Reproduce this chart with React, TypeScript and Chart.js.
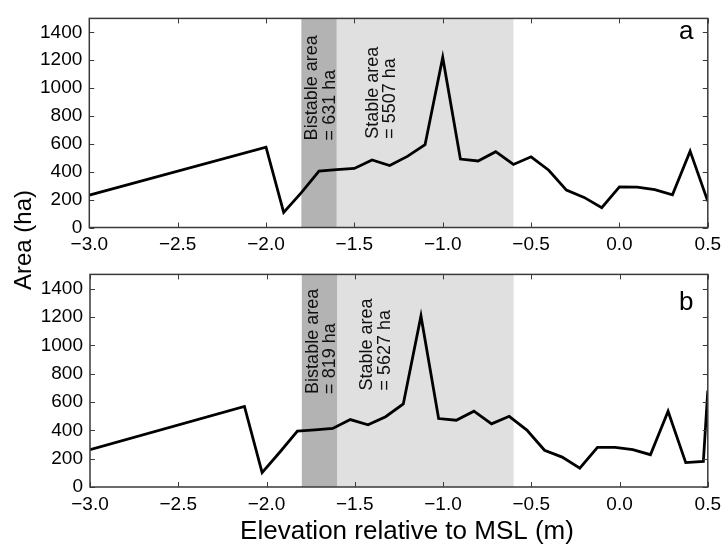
import React, { useEffect, useRef } from 'react';
import { Chart, registerables } from 'chart.js';

Chart.register(...registerables);

// ---------- data ----------
const xTickValues = [-3.0, -2.5, -2.0, -1.5, -1.0, -0.5, 0.0, 0.5];
const yTickValues = [0, 200, 400, 600, 800, 1000, 1200, 1400];

const elevationA = [-3.0, -2.0, -1.9, -1.8, -1.7, -1.6, -1.5, -1.4, -1.3, -1.2, -1.1, -1.0, -0.9, -0.8, -0.7, -0.6, -0.5, -0.4, -0.3, -0.2, -0.1, 0.0, 0.1, 0.2, 0.3, 0.4, 0.5];
const areaA = [232, 576, 108, 250, 404, 415, 424, 484, 445, 510, 594, 1220, 491, 477, 544, 452, 507, 411, 268, 216, 142, 291, 289, 271, 234, 548, 188];

const elevationB = [-3.0, -2.125, -2.025, -1.925, -1.825, -1.725, -1.625, -1.525, -1.425, -1.325, -1.225, -1.125, -1.025, -0.925, -0.825, -0.725, -0.625, -0.525, -0.425, -0.325, -0.225, -0.125, -0.025, 0.075, 0.175, 0.275, 0.375, 0.475, 0.5];
const areaB = [264, 568, 101, 245, 395, 403, 413, 476, 439, 496, 586, 1207, 483, 471, 535, 446, 499, 402, 259, 211, 133, 280, 280, 264, 228, 535, 172, 181, 680];

const bistableRange = [-1.8, -1.6];
const stableRange = [-1.6, -0.6];

const bistableTextA = ['Bistable area', '= 631 ha'];
const stableTextA = ['Stable area', '= 5507 ha'];
const bistableTextB = ['Bistable area', '= 819 ha'];
const stableTextB = ['Stable area', '= 5627 ha'];

const panelLabelA = 'a';
const panelLabelB = 'b';
const xTitle = 'Elevation relative to MSL (m)';
const yTitle = 'Area (ha)';

// ---------- styling ----------
const FONT = '"Liberation Sans", Arial, Helvetica, sans-serif';
const W = 727;
const TOP_H = 256;
const BOT_H = 289;

type PanelSpec = {
  elevation: number[];
  area: number[];
  bistableText: string[];
  stableText: string[];
  label: string;
  height: number;
  padTop: number;
  padRight: number;
  yAxisWidth: number;
  xAxisHeight: number;
  bistableX: number;
  stableX: number;
  bistableY: number;
  stableY: number;
  labelBaseline: number;
  showXTitle: boolean;
};

const fmtX = (v: number) => {
  const s = (Math.abs(v) < 1e-9 ? 0 : v).toFixed(1);
  return s.replace('-', '\u2212');
};

function makeDecorPlugin(spec: PanelSpec) {
  return {
    id: 'decor' + spec.label,
    beforeDatasetsDraw(chart: any) {
      const { ctx, chartArea } = chart;
      const xs = chart.scales.x;
      const { top, bottom } = chartArea;
      ctx.save();
      const b0 = xs.getPixelForValue(bistableRange[0]);
      const b1 = xs.getPixelForValue(bistableRange[1]);
      const s0 = xs.getPixelForValue(stableRange[0]);
      const s1 = xs.getPixelForValue(stableRange[1]);
      ctx.fillStyle = '#e0e0e0';
      ctx.fillRect(s0, top, s1 - s0, bottom - top);
      ctx.fillStyle = '#b3b3b3';
      ctx.fillRect(b0, top, b1 - b0, bottom - top);

      const ys = chart.scales.y;
      ctx.fillStyle = '#111';
      ctx.font = '18px ' + FONT;
      ctx.textAlign = 'left';
      ctx.textBaseline = 'alphabetic';
      const drawBlock = (lines: string[], xVal: number, yVal: number) => {
        const bx = xs.getPixelForValue(xVal);
        const by = ys.getPixelForValue(yVal);
        lines.forEach((t, i) => {
          ctx.save();
          ctx.translate(bx + i * 17.6, by);
          ctx.rotate(-Math.PI / 2);
          ctx.fillText(t, 0, 0);
          ctx.restore();
        });
      };
      drawBlock(spec.bistableText, spec.bistableX, spec.bistableY);
      drawBlock(spec.stableText, spec.stableX, spec.stableY);
      ctx.restore();
    },
    afterDraw(chart: any) {
      const { ctx, chartArea } = chart;
      const xs = chart.scales.x;
      const ys = chart.scales.y;
      const { left, right, top, bottom } = chartArea;
      ctx.save();
      ctx.strokeStyle = '#3a3a3a';
      ctx.lineWidth = 1.5;
      ctx.strokeRect(left, top, right - left, bottom - top);
      ctx.lineWidth = 1;
      ctx.beginPath();
      const TL = 5;
      xTickValues.forEach((v) => {
        const px = Math.round(xs.getPixelForValue(v)) + 0.5;
        ctx.moveTo(px, bottom);
        ctx.lineTo(px, bottom - TL);
        ctx.moveTo(px, top);
        ctx.lineTo(px, top + TL);
      });
      yTickValues.forEach((v) => {
        const py = Math.round(ys.getPixelForValue(v)) + 0.5;
        ctx.moveTo(left, py);
        ctx.lineTo(left + TL, py);
        ctx.moveTo(right, py);
        ctx.lineTo(right - TL, py);
      });
      ctx.stroke();

      ctx.fillStyle = '#000';
      ctx.font = '26px ' + FONT;
      ctx.textAlign = 'left';
      ctx.textBaseline = 'alphabetic';
      ctx.fillText(spec.label, 679, spec.labelBaseline);

      if (spec.showXTitle) {
        ctx.font = '26px ' + FONT;
        ctx.textAlign = 'center';
        ctx.fillText(xTitle, 407, 283);
      }
      ctx.restore();
    },
  };
}

function Panel({ spec, top }: { spec: PanelSpec; top: number }) {
  const ref = useRef<HTMLCanvasElement>(null);
  useEffect(() => {
    if (!ref.current) return;
    const chart = new Chart(ref.current, {
      type: 'line',
      data: {
        datasets: [
          {
            data: spec.elevation.map((x, i) => ({ x, y: spec.area[i] })),
            borderColor: '#000',
            borderWidth: 2.8,
            pointRadius: 0,
            tension: 0,
            fill: false,
            borderJoinStyle: 'miter',
          },
        ],
      },
      options: {
        animation: false,
        responsive: false,
        devicePixelRatio: 1,
        layout: { padding: { top: spec.padTop, right: spec.padRight, left: 0, bottom: 0 } },
        plugins: { legend: { display: false }, tooltip: { enabled: false } },
        scales: {
          x: {
            type: 'linear',
            min: -3,
            max: 0.5,
            grid: { display: false, drawTicks: false },
            border: { display: false },
            ticks: {
              stepSize: 0.5,
              includeBounds: false,
              autoSkip: false,
              maxRotation: 0,
              padding: 6,
              color: '#000',
              font: { family: FONT, size: 19 },
              callback: (v: any) => fmtX(Number(v)),
            },
            afterFit: (s: any) => {
              s.height = spec.xAxisHeight;
            },
          },
          y: {
            type: 'linear',
            min: 0,
            max: 1500,
            grid: { display: false, drawTicks: false },
            border: { display: false },
            ticks: {
              stepSize: 200,
              includeBounds: false,
              autoSkip: false,
              padding: 7,
              color: '#000',
              font: { family: FONT, size: 19 },
              callback: (v: any) => String(Math.round(Number(v))),
            },
            afterFit: (s: any) => {
              s.width = spec.yAxisWidth;
            },
          },
        },
      } as any,
      plugins: [makeDecorPlugin(spec)],
    });
    return () => chart.destroy();
  }, []);
  return (
    <canvas
      ref={ref}
      width={W}
      height={spec.height}
      style={{ position: 'absolute', left: 0, top, width: W, height: spec.height, display: 'block' }}
    />
  );
}

const specA: PanelSpec = {
  elevation: elevationA,
  area: areaA,
  bistableText: bistableTextA,
  stableText: stableTextA,
  label: panelLabelA,
  height: TOP_H,
  padTop: 10,
  padRight: 17,
  yAxisWidth: 89.3,
  xAxisHeight: 28.5,
  bistableX: -1.709,
  stableX: -1.367,
  bistableY: 625,
  stableY: 637,
  labelBaseline: 39,
  showXTitle: false,
};

const specB: PanelSpec = {
  elevation: elevationB,
  area: areaB,
  bistableText: bistableTextB,
  stableText: stableTextB,
  label: panelLabelB,
  height: BOT_H,
  padTop: 14.5,
  padRight: 17.5,
  yAxisWidth: 90,
  xAxisHeight: 58,
  bistableX: -1.71,
  stableX: -1.401,
  bistableY: 657,
  stableY: 680,
  labelBaseline: 54,
  showXTitle: true,
};

export default function App() {
  return (
    <div style={{ position: 'fixed', left: 0, top: 0, width: W, height: TOP_H + BOT_H, background: '#fff', overflow: 'hidden' }}>
      <Panel spec={specA} top={0} />
      <Panel spec={specB} top={TOP_H} />
      <div
        style={{
          position: 'absolute',
          left: 22.5,
          top: 239.5,
          transform: 'translate(-50%, -50%) rotate(-90deg)',
          font: '24px ' + FONT,
          lineHeight: 1,
          whiteSpace: 'nowrap',
          color: '#000',
        }}
      >
        {yTitle}
      </div>
    </div>
  );
}
